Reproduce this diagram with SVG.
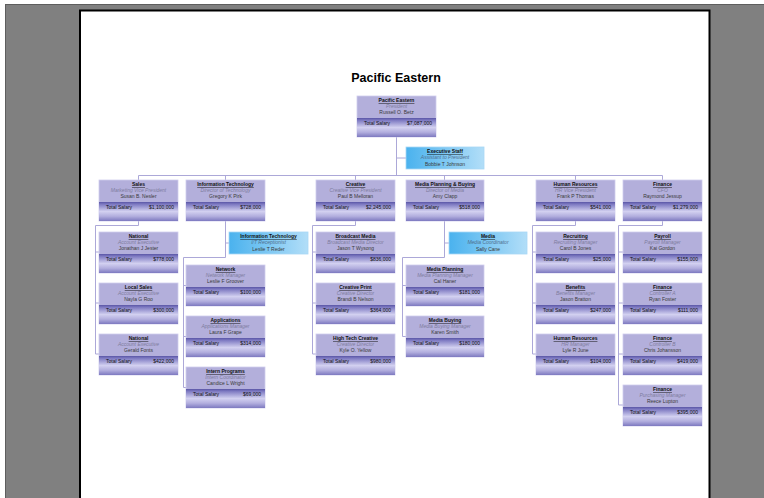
<svg xmlns="http://www.w3.org/2000/svg" width="764" height="498" viewBox="0 0 764 498">
<defs>
<linearGradient id="band" x1="0" y1="0" x2="0" y2="1">
<stop offset="0" stop-color="#5a56a6"/>
<stop offset="0.12" stop-color="#7e7ac2"/>
<stop offset="0.5" stop-color="#d2d0f0"/>
<stop offset="0.75" stop-color="#b2aede"/>
<stop offset="1" stop-color="#7d79c0"/>
</linearGradient>
<linearGradient id="asst" x1="0" y1="0" x2="1" y2="0">
<stop offset="0" stop-color="#4ab2ee"/>
<stop offset="1" stop-color="#b2def8"/>
</linearGradient>
<style>
text{font-family:"Liberation Sans",Arial,sans-serif;font-size:5px;}
.box{fill:#b3afdb;stroke:#d0cdee;stroke-width:0.8;}
.bandr{fill:url(#band);}
.abox{fill:url(#asst);stroke:#a8d8f4;stroke-width:0.8;}
.t{font-weight:bold;text-decoration:underline;fill:#111;text-anchor:middle;}
.s{font-style:italic;fill:#7e7c9e;text-anchor:middle;}
.as{font-style:italic;fill:#4f6f8e;text-anchor:middle;}
.n{fill:#3a3a3a;text-anchor:middle;}
.l{fill:#111;}
.v{fill:#111;text-anchor:end;}
.c{fill:none;stroke:#aca8d8;stroke-width:1;}
</style>
</defs>
<rect x="0" y="0" width="764" height="498" fill="#ffffff"/>
<rect x="5.5" y="4.5" width="760" height="500" fill="#808080" stroke="#5e5e5e" stroke-width="1"/>
<rect x="80" y="10.5" width="629.5" height="500" fill="#ffffff" stroke="#000000" stroke-width="2"/>
<text x="396" y="82" style="font-size:12.5px;font-weight:bold;text-anchor:middle;fill:#000">Pacific Eastern</text>

<g id="connectors">
<path class="c" d="M396.5,137 V175.5 M396.5,158 H406 M138.5,175.5 H662.5 M138.5,175.5 V180 M225.5,175.5 V180 M355.5,175.5 V180 M444.5,175.5 V180 M575.5,175.5 V180 M662.5,175.5 V180"/>
<path class="c" d="M138.5,221 V225.5 H95.5 V354 M95.5,252 H99 M95.5,303 H99 M95.5,354 H99"/>
<path class="c" d="M225.5,221 V257.5 H183.5 V387.5 M225.5,243 H229 M183.5,285.5 H186 M183.5,336.5 H186 M183.5,387.5 H186"/>
<path class="c" d="M355.5,221 V225.5 H312.5 V354 M312.5,252 H316 M312.5,303 H316 M312.5,354 H316"/>
<path class="c" d="M444.5,221 V257.5 H402.5 V336.5 M444.5,243 H449 M402.5,285.5 H406 M402.5,336.5 H406"/>
<path class="c" d="M575.5,221 V225.5 H532.5 V354 M532.5,252 H536 M532.5,303 H536 M532.5,354 H536"/>
<path class="c" d="M662.5,221 V225.5 H618.5 V405 M618.5,252 H623 M618.5,303 H623 M618.5,354 H623 M618.5,405 H623"/>
</g>

<g id="root" transform="translate(357,96)"><rect class="box" width="79" height="41"/><rect class="bandr" y="22" width="79" height="19"/><text class="t" x="39.5" y="6">Pacific Eastern</text><text class="s" x="39.5" y="12">President</text><text class="n" x="39.5" y="18">Russell O. Betz</text><text class="l" x="7" y="28.5">Total Salary</text><text class="v" x="75" y="28.5">$7,087,000</text></g>
<g id="exec" transform="translate(406,147)"><rect class="abox" width="78" height="22"/><text class="t" x="39" y="6">Executive Staff</text><text class="as" x="39" y="12">Assistant to President</text><text class="n" x="39" y="18.5">Bobbie T Johnson</text></g>

<g id="sales" transform="translate(99,180)"><rect class="box" width="79" height="41"/><rect class="bandr" y="22" width="79" height="19"/><text class="t" x="39.5" y="6">Sales</text><text class="s" x="39.5" y="12">Marketing Vice President</text><text class="n" x="39.5" y="18">Susan B. Nesler</text><text class="l" x="7" y="28.5">Total Salary</text><text class="v" x="75" y="28.5">$1,100,000</text></g>
<g id="it" transform="translate(186,180)"><rect class="box" width="79" height="41"/><rect class="bandr" y="22" width="79" height="19"/><text class="t" x="39.5" y="6">Information Technology</text><text class="s" x="39.5" y="12">Director of Technology</text><text class="n" x="39.5" y="18">Gregory K Pirk</text><text class="l" x="7" y="28.5">Total Salary</text><text class="v" x="75" y="28.5">$728,000</text></g>
<g id="creative" transform="translate(316,180)"><rect class="box" width="79" height="41"/><rect class="bandr" y="22" width="79" height="19"/><text class="t" x="39.5" y="6">Creative</text><text class="s" x="39.5" y="12">Creative Vice President</text><text class="n" x="39.5" y="18">Paul B Melloran</text><text class="l" x="7" y="28.5">Total Salary</text><text class="v" x="75" y="28.5">$2,245,000</text></g>
<g id="media" transform="translate(406,180)"><rect class="box" width="78" height="41"/><rect class="bandr" y="22" width="78" height="19"/><text class="t" x="39" y="6">Media Planning &amp; Buying</text><text class="s" x="39" y="12">Director of Media</text><text class="n" x="39" y="18">Amy Clapp</text><text class="l" x="7" y="28.5">Total Salary</text><text class="v" x="74" y="28.5">$518,000</text></g>
<g id="hr" transform="translate(536,180)"><rect class="box" width="79" height="41"/><rect class="bandr" y="22" width="79" height="19"/><text class="t" x="39.5" y="6">Human Resources</text><text class="s" x="39.5" y="12">HR Vice President</text><text class="n" x="39.5" y="18">Frank P Thomas</text><text class="l" x="7" y="28.5">Total Salary</text><text class="v" x="75" y="28.5">$541,000</text></g>
<g id="finance" transform="translate(623,180)"><rect class="box" width="79" height="41"/><rect class="bandr" y="22" width="79" height="19"/><text class="t" x="39.5" y="6">Finance</text><text class="s" x="39.5" y="12">CFO</text><text class="n" x="39.5" y="18">Raymond Jessup</text><text class="l" x="7" y="28.5">Total Salary</text><text class="v" x="75" y="28.5">$1,279,000</text></g>

<g id="sales-national1" transform="translate(99,232)"><rect class="box" width="79" height="41"/><rect class="bandr" y="22" width="79" height="19"/><text class="t" x="39.5" y="6">National</text><text class="s" x="39.5" y="12">Account Executive</text><text class="n" x="39.5" y="18">Jonathan J Jester</text><text class="l" x="7" y="28.5">Total Salary</text><text class="v" x="75" y="28.5">$778,000</text></g>
<g id="sales-local" transform="translate(99,283)"><rect class="box" width="79" height="41"/><rect class="bandr" y="22" width="79" height="19"/><text class="t" x="39.5" y="6">Local Sales</text><text class="s" x="39.5" y="12">Account Executive</text><text class="n" x="39.5" y="18">Nayla G Roo</text><text class="l" x="7" y="28.5">Total Salary</text><text class="v" x="75" y="28.5">$300,000</text></g>
<g id="sales-national2" transform="translate(99,334)"><rect class="box" width="79" height="41"/><rect class="bandr" y="22" width="79" height="19"/><text class="t" x="39.5" y="6">National</text><text class="s" x="39.5" y="12">Account Executive</text><text class="n" x="39.5" y="18">Gerald Fonts</text><text class="l" x="7" y="28.5">Total Salary</text><text class="v" x="75" y="28.5">$422,000</text></g>

<g id="it-asst" transform="translate(229,232)"><rect class="abox" width="79" height="22"/><text class="t" x="39.5" y="6">Information Technology</text><text class="as" x="39.5" y="12">I/T Receptionist</text><text class="n" x="39.5" y="18.5">Leslie T Reder</text></g>
<g id="it-network" transform="translate(186,265)"><rect class="box" width="79" height="41"/><rect class="bandr" y="22" width="79" height="19"/><text class="t" x="39.5" y="6">Network</text><text class="s" x="39.5" y="12">Network Manager</text><text class="n" x="39.5" y="18">Leslie F Groover</text><text class="l" x="7" y="28.5">Total Salary</text><text class="v" x="75" y="28.5">$100,000</text></g>
<g id="it-apps" transform="translate(186,316)"><rect class="box" width="79" height="41"/><rect class="bandr" y="22" width="79" height="19"/><text class="t" x="39.5" y="6">Applications</text><text class="s" x="39.5" y="12">Applications Manager</text><text class="n" x="39.5" y="18">Laura F Grape</text><text class="l" x="7" y="28.5">Total Salary</text><text class="v" x="75" y="28.5">$314,000</text></g>
<g id="it-intern" transform="translate(186,367)"><rect class="box" width="79" height="41"/><rect class="bandr" y="22" width="79" height="19"/><text class="t" x="39.5" y="6">Intern Programs</text><text class="s" x="39.5" y="12">Intern Coordinator</text><text class="n" x="39.5" y="18">Candice L Wright</text><text class="l" x="7" y="28.5">Total Salary</text><text class="v" x="75" y="28.5">$69,000</text></g>

<g id="cr-broadcast" transform="translate(316,232)"><rect class="box" width="79" height="41"/><rect class="bandr" y="22" width="79" height="19"/><text class="t" x="39.5" y="6">Broadcast Media</text><text class="s" x="39.5" y="12">Broadcast Media Director</text><text class="n" x="39.5" y="18">Jason T Wysong</text><text class="l" x="7" y="28.5">Total Salary</text><text class="v" x="75" y="28.5">$836,000</text></g>
<g id="cr-print" transform="translate(316,283)"><rect class="box" width="79" height="41"/><rect class="bandr" y="22" width="79" height="19"/><text class="t" x="39.5" y="6">Creative Print</text><text class="s" x="39.5" y="12">Creative Director</text><text class="n" x="39.5" y="18">Brandi B Nelson</text><text class="l" x="7" y="28.5">Total Salary</text><text class="v" x="75" y="28.5">$364,000</text></g>
<g id="cr-hightech" transform="translate(316,334)"><rect class="box" width="79" height="41"/><rect class="bandr" y="22" width="79" height="19"/><text class="t" x="39.5" y="6">High Tech Creative</text><text class="s" x="39.5" y="12">Creative Director</text><text class="n" x="39.5" y="18">Kyle O. Yellow</text><text class="l" x="7" y="28.5">Total Salary</text><text class="v" x="75" y="28.5">$980,000</text></g>

<g id="media-asst" transform="translate(449,232)"><rect class="abox" width="78" height="22"/><text class="t" x="39" y="6">Media</text><text class="as" x="39" y="12">Media Coordinator</text><text class="n" x="39" y="18.5">Sally Cane</text></g>
<g id="media-planning" transform="translate(406,265)"><rect class="box" width="78" height="41"/><rect class="bandr" y="22" width="78" height="19"/><text class="t" x="39" y="6">Media Planning</text><text class="s" x="39" y="12">Media Planning Manager</text><text class="n" x="39" y="18">Cal Haner</text><text class="l" x="7" y="28.5">Total Salary</text><text class="v" x="74" y="28.5">$181,000</text></g>
<g id="media-buying" transform="translate(406,316)"><rect class="box" width="78" height="41"/><rect class="bandr" y="22" width="78" height="19"/><text class="t" x="39" y="6">Media Buying</text><text class="s" x="39" y="12">Media Buying Manager</text><text class="n" x="39" y="18">Karen Smith</text><text class="l" x="7" y="28.5">Total Salary</text><text class="v" x="74" y="28.5">$180,000</text></g>

<g id="hr-recruiting" transform="translate(536,232)"><rect class="box" width="79" height="41"/><rect class="bandr" y="22" width="79" height="19"/><text class="t" x="39.5" y="6">Recruiting</text><text class="s" x="39.5" y="12">Recruiting Manager</text><text class="n" x="39.5" y="18">Carol B Jones</text><text class="l" x="7" y="28.5">Total Salary</text><text class="v" x="75" y="28.5">$25,000</text></g>
<g id="hr-benefits" transform="translate(536,283)"><rect class="box" width="79" height="41"/><rect class="bandr" y="22" width="79" height="19"/><text class="t" x="39.5" y="6">Benefits</text><text class="s" x="39.5" y="12">Benefits Manager</text><text class="n" x="39.5" y="18">Jason Bratton</text><text class="l" x="7" y="28.5">Total Salary</text><text class="v" x="75" y="28.5">$247,000</text></g>
<g id="hr-hr" transform="translate(536,334)"><rect class="box" width="79" height="41"/><rect class="bandr" y="22" width="79" height="19"/><text class="t" x="39.5" y="6">Human Resources</text><text class="s" x="39.5" y="12">HR Manager</text><text class="n" x="39.5" y="18">Lyle R June</text><text class="l" x="7" y="28.5">Total Salary</text><text class="v" x="75" y="28.5">$104,000</text></g>

<g id="fin-payroll" transform="translate(623,232)"><rect class="box" width="79" height="41"/><rect class="bandr" y="22" width="79" height="19"/><text class="t" x="39.5" y="6">Payroll</text><text class="s" x="39.5" y="12">Payroll Manager</text><text class="n" x="39.5" y="18">Kai Gordon</text><text class="l" x="7" y="28.5">Total Salary</text><text class="v" x="75" y="28.5">$155,000</text></g>
<g id="fin-ctrl-a" transform="translate(623,283)"><rect class="box" width="79" height="41"/><rect class="bandr" y="22" width="79" height="19"/><text class="t" x="39.5" y="6">Finance</text><text class="s" x="39.5" y="12">Controller A</text><text class="n" x="39.5" y="18">Ryan Foster</text><text class="l" x="7" y="28.5">Total Salary</text><text class="v" x="75" y="28.5">$111,000</text></g>
<g id="fin-ctrl-b" transform="translate(623,334)"><rect class="box" width="79" height="41"/><rect class="bandr" y="22" width="79" height="19"/><text class="t" x="39.5" y="6">Finance</text><text class="s" x="39.5" y="12">Controller B</text><text class="n" x="39.5" y="18">Chris Johansson</text><text class="l" x="7" y="28.5">Total Salary</text><text class="v" x="75" y="28.5">$419,000</text></g>
<g id="fin-purchasing" transform="translate(623,385)"><rect class="box" width="79" height="41"/><rect class="bandr" y="22" width="79" height="19"/><text class="t" x="39.5" y="6">Finance</text><text class="s" x="39.5" y="12">Purchasing Manager</text><text class="n" x="39.5" y="18">Reece Lupton</text><text class="l" x="7" y="28.5">Total Salary</text><text class="v" x="75" y="28.5">$395,000</text></g>
</svg>
